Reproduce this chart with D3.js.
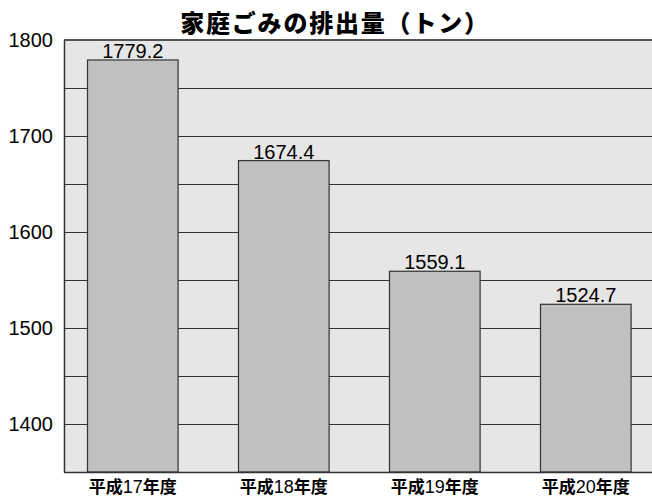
<!DOCTYPE html>
<meta charset="utf-8">
<head>
<style>
body { margin: 0; background: #fff; }
.tick text, .val { font: 20px "Liberation Sans", Arial, sans-serif; fill: #000; }
.cat { font: bold 17px "Noto Sans CJK JP", sans-serif; }
.cat .num { font-family: "Liberation Sans", Arial, sans-serif; font-weight: normal; font-size: 18px; }
.title { font: 900 24px "Noto Sans CJK JP", sans-serif; letter-spacing: 1.8px; }
</style>
</head>
<body>
<svg width="652" height="497"></svg>
<script src="https://d3js.org/d3.v7.min.js"></script>
<script>

var years = ["17", "18", "19", "20"];
var values = [1779.2, 1674.4, 1559.1, 1524.7];
var yTicks = [1400, 1500, 1600, 1700, 1800];
var gridLines = [1400, 1450, 1500, 1550, 1600, 1650, 1700, 1750];

var svg = d3.select("svg"),
    plotLeft = 64, plotRight = 652, plotTop = 40, plotBottom = 472;

var x = d3.scaleBand()
    .domain(years)
    .range([57.3, 661.3])
    .paddingInner(0.4)
    .paddingOuter(0.2);

var y = d3.scaleLinear()
    .domain([1350, 1800])
    .range([plotBottom, plotTop]);

// plot background
svg.append("rect")
    .attr("x", plotLeft).attr("y", plotTop)
    .attr("width", plotRight - plotLeft).attr("height", plotBottom - plotTop)
    .attr("fill", "#e6e6e6");

svg.selectAll(".grid")
    .data(gridLines)
  .enter().append("line")
    .attr("class", "grid")
    .attr("x1", plotLeft).attr("x2", plotRight)
    .attr("y1", function(d) { return Math.round(y(d)) + 0.5; })
    .attr("y2", function(d) { return Math.round(y(d)) + 0.5; })
    .attr("stroke", "#333").attr("stroke-width", 1);

// top border
svg.append("line")
    .attr("x1", plotLeft).attr("x2", plotRight)
    .attr("y1", plotTop).attr("y2", plotTop)
    .attr("stroke", "#555").attr("stroke-width", 2);

svg.selectAll(".bar")
    .data(values)
  .enter().append("rect")
    .attr("class", "bar")
    .attr("x", function(d, i) { return x(years[i]); })
    .attr("y", function(d) { return y(d); })
    .attr("width", x.bandwidth())
    .attr("height", function(d) { return plotBottom - y(d); })
    .attr("fill", "#c0c0c0")
    .attr("stroke", "#333").attr("stroke-width", 1.2);

svg.selectAll(".val")
    .data(values)
  .enter().append("text")
    .attr("class", "val")
    .attr("x", function(d, i) { return x(years[i]) + x.bandwidth() / 2; })
    .attr("y", function(d) { return y(d) - 2; })
    .attr("text-anchor", "middle")
    .text(function(d) { return d.toFixed(1); });

// axes
var yAxis = svg.append("g")
    .attr("transform", "translate(" + plotLeft + ",0)")
    .call(d3.axisLeft(y).tickValues(yTicks).tickFormat(d3.format("d")).tickSize(0).tickPadding(11));
yAxis.select(".domain").attr("stroke", "#333").attr("stroke-width", 1.5);

svg.append("line")
    .attr("x1", plotLeft).attr("x2", plotRight)
    .attr("y1", plotBottom + 0.5).attr("y2", plotBottom + 0.5)
    .attr("stroke", "#333").attr("stroke-width", 1.5);

var cat = svg.selectAll(".cat")
    .data(years)
  .enter().append("text")
    .attr("class", "cat")
    .attr("x", function(d) { return x(d) + x.bandwidth() / 2; })
    .attr("y", 493)
    .attr("text-anchor", "middle");
cat.append("tspan").text("平成");
cat.append("tspan").attr("class", "num").text(function(d) { return d; });
cat.append("tspan").text("年度");

svg.append("text")
    .attr("class", "title")
    .attr("x", 335)
    .attr("y", 32)
    .attr("text-anchor", "middle")
    .text("家庭ごみの排出量（トン）");

</script>
</body>
</html>
